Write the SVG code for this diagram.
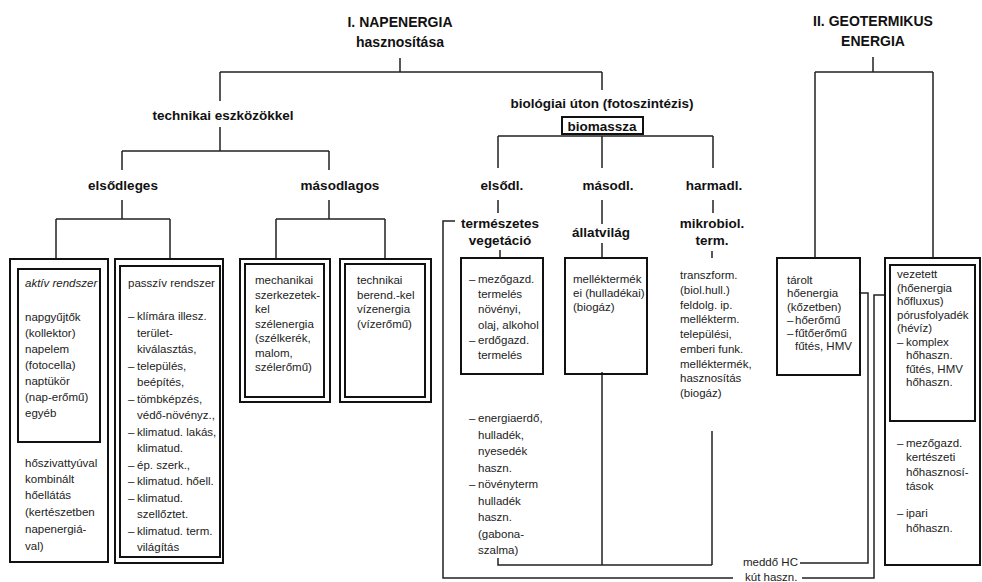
<svg xmlns="http://www.w3.org/2000/svg" width="982" height="582" viewBox="0 0 982 582">
<style>
  .h { font-family: "Liberation Sans", Arial, sans-serif; font-weight: bold; fill: #111; text-anchor: middle; font-size: 13.5px; }
  .ti { font-size: 14px; }
  .t { font-family: "Liberation Sans", Arial, sans-serif; font-size: 11.5px; fill: #222; }
  .box { fill: none; stroke: #111; stroke-width: 2; }
  .ln { fill: none; stroke: #222; stroke-width: 1.5; }
</style>
<rect width="982" height="582" fill="#fff"/>

<g id="connectors">
  <path class="ln" d="M400 58V72M220 72H602M220 72V101M602 72V90"/>
  <path class="ln" d="M220 127V151M122 151H329M122 151V170M329 151V170"/>
  <path class="ln" d="M122 200V219M56 219H170M56 219V258M170 219V258"/>
  <path class="ln" d="M329 200V219M276 219H385M276 219V258M385 219V258"/>
  <path class="ln" d="M498 136H713M498 136V168M602 136V168M713 136V168"/>
  <path class="ln" d="M498 200V213M602 200V224M713 200V213"/>
  <path class="ln" d="M500 250V258M602 243V258M712 251V258"/>
  <path class="ln" d="M455 221H443V578H733"/>
  <path class="ln" d="M498 558V565H712M602 372V565M712 431V565"/>
  <path class="ln" d="M873 57V72M815 72H933M815 72V258M933 72V258"/>
  <path class="ln" d="M860 293H868V563H800"/>
  <path class="ln" d="M885 295H874V578H802"/>
</g>

<g id="title-nap">
  <text class="h ti" x="400" y="27">I. NAPENERGIA</text>
  <text class="h ti" x="400" y="47">hasznosítása</text>
</g>
<g id="technikai">
  <text class="h" x="223" y="120">technikai eszközökkel</text>
</g>
<g id="biologiai">
  <text class="h" x="602" y="108">biológiai úton (fotoszintézis)</text>
  <rect class="box" x="562" y="117" width="81" height="17"/>
  <text class="h" x="602" y="130.5">biomassza</text>
</g>
<g id="elsodleges"><text class="h" x="123" y="190">elsődleges</text></g>
<g id="masodlagos"><text class="h" x="340" y="190">másodlagos</text></g>
<g id="elsodl"><text class="h" x="502" y="190">elsődl.</text></g>
<g id="masodl"><text class="h" x="608" y="190">másodl.</text></g>
<g id="harmadl"><text class="h" x="714" y="190">harmadl.</text></g>
<g id="termeszetes">
  <text class="h" x="500" y="228" font-size="12.5">természetes</text>
  <text class="h" x="500" y="245" font-size="12.5">vegetáció</text>
</g>
<g id="allatvilag"><text class="h" x="601" y="237" font-size="12.5">állatvilág</text></g>
<g id="mikrobiol">
  <text class="h" x="712" y="228" font-size="12.5">mikrobiol.</text>
  <text class="h" x="712" y="245" font-size="12.5">term.</text>
</g>
<g id="title-geo">
  <text class="h ti" x="873" y="26">II. GEOTERMIKUS</text>
  <text class="h ti" x="873" y="46">ENERGIA</text>
</g>

<g id="aktiv">
  <rect class="box" x="10" y="259" width="98" height="303"/>
  <rect class="box" x="18" y="269" width="82" height="173"/>
  <text class="t" x="25" y="287" font-style="italic">aktív rendszer</text>
  <text class="t" x="25" y="321">napgyűjtők</text>
  <text class="t" x="25" y="337">(kollektor)</text>
  <text class="t" x="25" y="353">napelem</text>
  <text class="t" x="25" y="369">(fotocella)</text>
  <text class="t" x="25" y="385">naptükör</text>
  <text class="t" x="25" y="401">(nap-erőmű)</text>
  <text class="t" x="25" y="417">egyéb</text>
  <text class="t" x="25" y="467">hőszivattyúval</text>
  <text class="t" x="25" y="483">kombinált</text>
  <text class="t" x="25" y="499">hőellátás</text>
  <text class="t" x="25" y="516">(kertészetben</text>
  <text class="t" x="25" y="533">napenergiá-</text>
  <text class="t" x="25" y="550">val)</text>
</g>

<g id="passziv">
  <rect class="box" x="115" y="259" width="108" height="304"/>
  <rect class="box" x="120" y="266" width="100" height="291"/>
  <text class="t" x="128" y="287">passzív rendszer</text>
  <text class="t" x="128" y="320">–</text><text class="t" x="137" y="320">klímára illesz.</text>
  <text class="t" x="137" y="336.5">terület-</text>
  <text class="t" x="137" y="353">kiválasztás,</text>
  <text class="t" x="128" y="369.5">–</text><text class="t" x="137" y="369.5">település,</text>
  <text class="t" x="137" y="386">beépítés,</text>
  <text class="t" x="128" y="402.5">–</text><text class="t" x="137" y="402.5">tömbképzés,</text>
  <text class="t" x="137" y="419">védő-növényz.,</text>
  <text class="t" x="128" y="435.5">–</text><text class="t" x="137" y="435.5">klimatud. lakás,</text>
  <text class="t" x="137" y="452">klimatud.</text>
  <text class="t" x="128" y="468.5">–</text><text class="t" x="137" y="468.5">ép. szerk.,</text>
  <text class="t" x="128" y="485">–</text><text class="t" x="137" y="485">klimatud. hőell.</text>
  <text class="t" x="128" y="501.5">–</text><text class="t" x="137" y="501.5">klimatud.</text>
  <text class="t" x="137" y="518">szellőztet.</text>
  <text class="t" x="128" y="534.5">–</text><text class="t" x="137" y="534.5">klimatud. term.</text>
  <text class="t" x="137" y="551">világítás</text>
</g>

<g id="mechanikai">
  <rect class="box" x="240" y="259" width="90" height="143"/>
  <rect class="box" x="245" y="264" width="79" height="133"/>
  <text class="t" x="255" y="284">mechanikai</text>
  <text class="t" x="255" y="298.5">szerkezetek-</text>
  <text class="t" x="255" y="313">kel</text>
  <text class="t" x="255" y="327.5">szélenergia</text>
  <text class="t" x="255" y="342">(szélkerék,</text>
  <text class="t" x="255" y="356.5">malom,</text>
  <text class="t" x="255" y="371">szélerőmű)</text>
</g>

<g id="technikai-berend">
  <rect class="box" x="340" y="259" width="91" height="143"/>
  <rect class="box" x="345" y="264" width="80" height="133"/>
  <text class="t" x="357" y="284">technikai</text>
  <text class="t" x="357" y="298.5">berend.-kel</text>
  <text class="t" x="357" y="313">vízenergia</text>
  <text class="t" x="357" y="327.5">(vízerőmű)</text>
</g>

<g id="mezogazd">
  <rect class="box" x="461" y="258" width="82" height="116"/>
  <text class="t" x="469" y="283">–</text><text class="t" x="478" y="283">mezőgazd.</text>
  <text class="t" x="478" y="298">termelés</text>
  <text class="t" x="478" y="313">növényi,</text>
  <text class="t" x="478" y="328.5">olaj, alkohol</text>
  <text class="t" x="469" y="344">–</text><text class="t" x="478" y="344">erdőgazd.</text>
  <text class="t" x="478" y="359">termelés</text>
</g>
<g id="energiaerdo">
  <text class="t" x="469" y="422">–</text><text class="t" x="478" y="422">energiaerdő,</text>
  <text class="t" x="478" y="438.5">hulladék,</text>
  <text class="t" x="478" y="455">nyesedék</text>
  <text class="t" x="478" y="471.5">haszn.</text>
  <text class="t" x="469" y="488">–</text><text class="t" x="478" y="488">növényterm</text>
  <text class="t" x="478" y="504.5">hulladék</text>
  <text class="t" x="478" y="521">haszn.</text>
  <text class="t" x="478" y="537.5">(gabona-</text>
  <text class="t" x="478" y="554">szalma)</text>
</g>

<g id="mellektermek">
  <rect class="box" x="565" y="258" width="82" height="116"/>
  <text class="t" x="573" y="283" font-size="11">melléktermék</text>
  <text class="t" x="573" y="297" font-size="11">ei (hulladékai)</text>
  <text class="t" x="573" y="311" font-size="11">(biogáz)</text>
</g>

<g id="transzform">
  <text class="t" x="680" y="279">transzform.</text>
  <text class="t" x="680" y="294">(biol.hull.)</text>
  <text class="t" x="680" y="308.5">feldolg. ip.</text>
  <text class="t" x="680" y="323">mellékterm.</text>
  <text class="t" x="680" y="338">települési,</text>
  <text class="t" x="680" y="353">emberi funk.</text>
  <text class="t" x="680" y="367.5">melléktermék,</text>
  <text class="t" x="680" y="382">hasznosítás</text>
  <text class="t" x="680" y="397">(biogáz)</text>
</g>

<g id="meddo">
  <text class="t" x="743" y="566">meddő HC</text>
  <text class="t" x="745" y="581">kút haszn.</text>
</g>

<g id="tarolt">
  <rect class="box" x="777" y="258" width="83" height="117"/>
  <text class="t" x="787" y="284">tárolt</text>
  <text class="t" x="787" y="297">hőenergia</text>
  <text class="t" x="787" y="311">(kőzetben)</text>
  <text class="t" x="787" y="324">–</text><text class="t" x="795" y="324">hőerőmű</text>
  <text class="t" x="787" y="337">–</text><text class="t" x="795" y="337">fűtőerőmű</text>
  <text class="t" x="795" y="350">fűtés, HMV</text>
</g>

<g id="vezetett">
  <rect class="box" x="885" y="258" width="95" height="307"/>
  <rect class="box" x="890" y="265" width="85" height="156"/>
  <text class="t" x="897" y="278">vezetett</text>
  <text class="t" x="897" y="291.5">(hőenergia</text>
  <text class="t" x="897" y="305">hőfluxus)</text>
  <text class="t" x="897" y="318.5">pórusfolyadék</text>
  <text class="t" x="897" y="332">(hévíz)</text>
  <text class="t" x="897" y="345.5">–</text><text class="t" x="906" y="345.5">komplex</text>
  <text class="t" x="906" y="359">hőhaszn.</text>
  <text class="t" x="906" y="372.5">fűtés, HMV</text>
  <text class="t" x="906" y="386">hőhaszn.</text>
  <text class="t" x="897" y="447">–</text><text class="t" x="906" y="447">mezőgazd.</text>
  <text class="t" x="906" y="461">kertészeti</text>
  <text class="t" x="906" y="476">hőhasznosí-</text>
  <text class="t" x="906" y="490">tások</text>
  <text class="t" x="897" y="517">–</text><text class="t" x="906" y="517">ipari</text>
  <text class="t" x="906" y="532">hőhaszn.</text>
</g>
</svg>
